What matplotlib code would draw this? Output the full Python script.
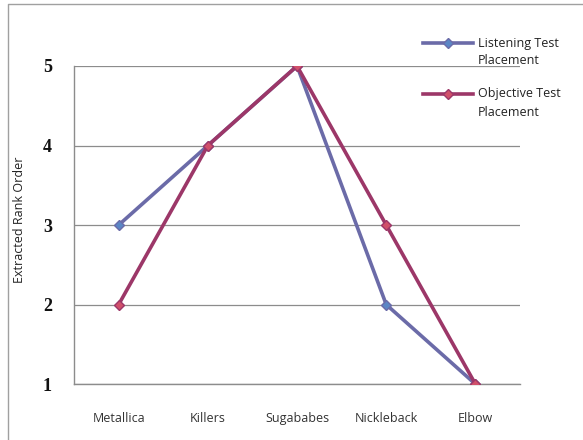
import matplotlib.pyplot as plt
from matplotlib.lines import Line2D

bands = ['Metallica', 'Killers', 'Sugababes', 'Nickleback', 'Elbow']
listening = [3, 4, 5, 2, 1]
objective = [2, 4, 5, 3, 1]

W, H = 583, 440
fig = plt.figure(figsize=(W / 100, H / 100), dpi=100)
ax = fig.add_axes([0.127, 0.127, 0.765, 0.723])

styles = [
    dict(color='#6b6ba8', mfc='#5b86c5', mec='#6b6ba8'),
    dict(color='#9c3768', mfc='#d0506a', mec='#9c3768'),
]
labels = [('Listening Test', 'Placement'), ('Objective Test', 'Placement')]

x = range(len(bands))
for i, (ys, st) in enumerate(zip([listening, objective], styles)):
    ax.plot(x, ys, lw=2.6, marker='D', ms=5, mew=1, zorder=3 + i, **st)

ax.set_xlim(-0.5, 4.5)
ax.set_ylim(1, 5)
ax.set_yticks([1, 2, 3, 4, 5])
ax.set_xticks(list(x))
ax.set_xticklabels(bands, fontsize=9, family='Open Sans', color='#333333')
for t in ax.get_yticklabels():
    t.set_family('Liberation Serif')
    t.set_fontsize(13)
    t.set_fontweight('bold')
    t.set_color('#111111')
ax.tick_params(length=0)
ax.tick_params(axis='x', pad=20)
ax.tick_params(axis='y', pad=16)
ax.grid(axis='y', color='#8c8c8c', lw=0.9)
for s in ['top', 'right']:
    ax.spines[s].set_visible(False)
for s in ['left', 'bottom']:
    ax.spines[s].set_color('#8c8c8c')
    ax.spines[s].set_linewidth(1)

fig.text(20 / W, 0.5, 'Extracted Rank Order', rotation=90, fontsize=9,
         family='Open Sans', ha='center', va='center', color='#222222')

# legend drawn by hand: handle sits on the first text line
for i, (st, (l1, l2)) in enumerate(zip(styles, labels)):
    y0 = 1 - (43 + 51 * i) / H
    fig.add_artist(Line2D([423 / W, 448 / W, 473 / W], [y0, y0, y0], lw=2.6,
                          marker='D', ms=5, mew=1, markevery=[1],
                          transform=fig.transFigure, **st))
    fig.text(478 / W, y0, l1, fontsize=9, family='Open Sans', va='center', color='#222222')
    fig.text(478 / W, y0 - 18 / H, l2, fontsize=9, family='Open Sans', va='center', color='#222222')

# outer chart frame: only left and top edges show
fx, fy = 7.5 / W, 1 - 4 / H
fig.add_artist(Line2D([fx, fx, 1.0], [0.0, fy, fy], color='#a0a0a0', lw=1,
                      transform=fig.transFigure))

fig.savefig('out.png', dpi=100)
